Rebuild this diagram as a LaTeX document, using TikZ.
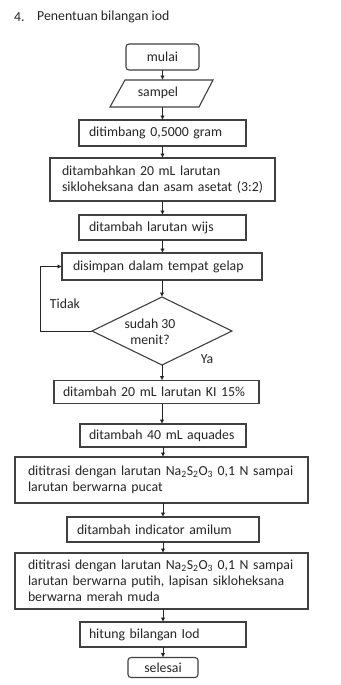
\documentclass[tikz,border=0pt]{standalone}
\usepackage{fontspec}
\setmainfont{Carlito}
\usetikzlibrary{shapes.geometric,arrows.meta}
\begin{document}
\begin{tikzpicture}[x=1pt,y=-1pt,
  every node/.style={font=\fontsize{13.8}{16}\selectfont, text=black!85},
  box/.style={draw=black!75, line width=1.1pt, fill=white, rectangle, align=left, inner ysep=0pt, outer sep=0pt},
  term/.style={draw=black!75, line width=1.1pt, fill=white, rectangle, rounded corners=3pt, align=center, inner sep=0pt, outer sep=0pt},
  lbl/.style={inner sep=0pt},
  arr/.style={-{Latex[length=4.5pt,width=4.5pt]}, line width=1pt, draw=black!85}]
\useasboundingbox (0,0) rectangle (340,685);
\fill[white] (0,0) rectangle (340,685);
% title
\node[lbl, anchor=west] (tnum) at (14,17) {4.};
\node[lbl, anchor=west] (title) at (37,17) {Penentuan bilangan iod};
% nodes
\node[term, minimum width=73, minimum height=26] (mulai) at (162.5,57) {mulai};
% parallelogram "sampel"
\coordinate (pTL) at (125,80);
\coordinate (pTR) at (213,80);
\coordinate (pBR) at (199,107);
\coordinate (pBL) at (110,107);
\draw[draw=black!75, line width=1.1pt, fill=white, line join=miter] (pTL) -- (pTR) -- (pBR) -- (pBL) -- cycle;
\node[lbl] (sampel) at (158,93) {sampel};
\coordinate (sampelN) at (162.5,80);
\coordinate (sampelS) at (162.5,107);
\node[box, inner xsep=10pt, text width=147pt, minimum height=26] (timbang) at (162.5,133) {ditimbang 0,5000 gram};
\node[box, inner xsep=12pt, text width=201pt, minimum height=43] (tambahkan) at (162.5,179.5) {ditambahkan 20 mL larutan\\ sikloheksana dan asam asetat (3:2)};
\node[box, inner xsep=10pt, text width=147pt, minimum height=25] (wijs) at (162.5,227.5) {ditambah larutan wijs};
\node[box, inner xsep=11pt, text width=178pt, minimum height=27] (simpan) at (162,266.5) {disimpan dalam tempat gelap};
\node[draw=black!75, line width=1.1pt, fill=white, diamond, minimum width=140, minimum height=68, inner sep=0pt, outer sep=0pt] (dec) at (162,331) {};
\node[lbl, align=center] (dectxt) at (150,332) {sudah 30\\ menit?};
\node[box, inner xsep=9pt, text width=187pt, minimum height=23] (ki) at (156.5,392) {ditambah 20 mL larutan KI 15\%};
\node[box, inner xsep=9pt, text width=148pt, minimum height=23] (aq) at (163,435.5) {ditambah 40 mL aquades};
\node[box, inner xsep=13pt, text width=267pt, minimum height=46] (titr1) at (161.5,480) {dititrasi dengan larutan Na\textsubscript{2}S\textsubscript{2}O\textsubscript{3} 0,1 N sampai\\ larutan berwarna pucat};
\node[box, inner xsep=10pt, text width=172pt, minimum height=25] (ind) at (163,529.5) {ditambah indicator amilum};
\node[box, inner xsep=13pt, text width=267pt, minimum height=56] (titr2) at (161.5,581) {dititrasi dengan larutan Na\textsubscript{2}S\textsubscript{2}O\textsubscript{3} 0,1 N sampai\\ larutan berwarna putih, lapisan sikloheksana\\ berwarna merah muda};
\node[box, inner xsep=9pt, text width=148pt, minimum height=25] (hit) at (163,634.5) {hitung bilangan Iod};
\node[term, minimum width=70, minimum height=20] (sel) at (163,667.5) {selesai};
\node[lbl] (ya) at (207,359) {Ya};
\node[lbl] (tidak) at (65,304) {Tidak};
% connectors
\draw[arr] (mulai.south) -- (sampelN);
\draw[arr] (sampelS) -- (sampelS |- timbang.north);
\draw[arr] (timbang.south) -- (timbang.south |- tambahkan.north);
\draw[arr] (tambahkan.south) -- (tambahkan.south |- wijs.north);
\draw[arr] (wijs.south) -- (wijs.south |- simpan.north);
\draw[arr] (simpan.south) -- (simpan.south |- dec.north);
\draw[arr] (dec.west) -- ++(-52,0) |- (simpan.west);
\draw[arr] (dec.south) -- (dec.south |- ki.north);
\draw[arr] (dec.south |- ki.south) -- (dec.south |- aq.north);
\draw[arr] (aq.south) -- (aq.south |- titr1.north);
\draw[arr] (aq.south |- titr1.south) -- (aq.south |- ind.north);
\draw[arr] (ind.south) -- (ind.south |- titr2.north);
\draw[arr] (ind.south |- titr2.south) -- (ind.south |- hit.north);
\draw[arr] (hit.south) -- (hit.south |- sel.north);
\end{tikzpicture}
\end{document}
